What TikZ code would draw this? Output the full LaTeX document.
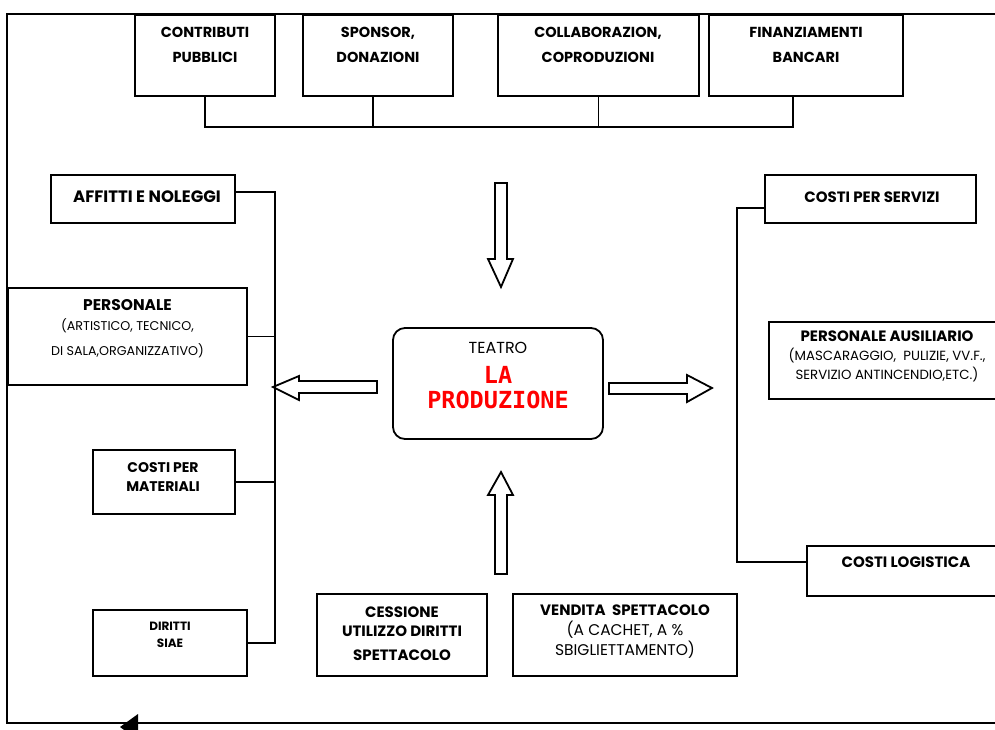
\documentclass[tikz,border=0pt]{standalone}
\usepackage{fontspec}
\setmainfont{Poppins}
\newfontfamily\monofnt{DejaVu Sans Mono}
\usetikzlibrary{positioning}

\begin{document}
\begin{tikzpicture}[x=1pt, y=-1pt,
  box/.style={draw, line width=1.8pt, inner sep=0pt},
  hd/.style={align=center, font=\bfseries\fontsize{15}{19}\selectfont},
  wire/.style={line width=1.8pt},
  fat/.style={draw, line width=1.8pt, line join=miter}]
  \useasboundingbox (0,0) rectangle (995,729);

  % outer frame, closing at the bottom with an arrow
  \coordinate (tl) at (7,14);
  \coordinate (bl) at (7,723);
  \draw[wire] (1000,14) -- (tl) -- (bl) -- (1000,723);
  \fill (120,727) -- (138,714) -- (138,740) -- cycle;

  % sources of money
  \node[box, minimum width=140, minimum height=81] (contrib) at (205,55.5) {};
  \node[box, minimum width=150, minimum height=81] (sponsor) at (378,55.5) {};
  \node[box, minimum width=201, minimum height=81] (collab) at (598.5,55.5) {};
  \node[box, minimum width=194, minimum height=81] (finanz) at (806,55.5) {};
  \node[hd, font=\bfseries\fontsize{14.5}{25}\selectfont] (contrib-t) at (205,45) {CONTRIBUTI\\PUBBLICI};
  \node[hd, font=\bfseries\fontsize{14.5}{25}\selectfont] (sponsor-t) at (378,45) {SPONSOR,\\DONAZIONI};
  \node[hd, font=\bfseries\fontsize{14.5}{25}\selectfont] (collab-t) at (598,45) {COLLABORAZION,\\COPRODUZIONI};
  \node[hd, font=\bfseries\fontsize{14.5}{25}\selectfont] (finanz-t) at (806,45) {FINANZIAMENTI\\BANCARI};

  \coordinate (bus) at (0,127);
  \draw[wire] (contrib.south) |- ([xshift=-13pt]finanz.south |- bus) -- ([xshift=-13pt]finanz.south);
  \draw[wire] ([xshift=-5pt]sponsor.south) -- ([xshift=-5pt]sponsor.south |- bus);
  \draw[wire] (collab.south) -- (collab.south |- bus);

  % the production
  \node[box, rounded corners=12pt, minimum width=210, minimum height=111] (prod) at (498,383.5) {};
  \node[font=\fontsize{16}{18}\selectfont] (teatro) at (498,348) {TEATRO};
  \node[font=\monofnt\bfseries\fontsize{23.5}{25}\selectfont, text=red, align=center] (titolo) at (498,388) {LA\\PRODUZIONE};

  % hollow arrows
  \draw[fat] (495,183) -- (507,183) -- (507,259) -- (513,259) -- (501,287) -- (488,259) -- (495,259) -- cycle;
  \draw[fat] (495,574) -- (507,574) -- (507,495) -- (513,495) -- (501,472) -- (488,495) -- (495,495) -- cycle;
  \draw[fat] (377,381) -- (377,393) -- (299,393) -- (299,400) -- (273,387) -- (299,376) -- (299,381) -- cycle;
  \draw[fat] (609,383) -- (609,394) -- (687,394) -- (687,402) -- (712,388) -- (687,375) -- (687,383) -- cycle;

  % costs, left side
  \node[box, minimum width=184, minimum height=48] (affitti) at (143,199) {};
  \node[box, minimum width=239, minimum height=97] (personale) at (127.5,336.5) {};
  \node[box, minimum width=142, minimum height=64] (materiali) at (164,482) {};
  \node[box, minimum width=154, minimum height=66] (siae) at (170,643) {};
  \node[hd, font=\bfseries\fontsize{16.5}{19}\selectfont] (affitti-t) at (147,197) {AFFITTI E NOLEGGI};
  \node[align=center, font=\fontsize{12.7}{20}\selectfont] (personale-t) at (127.5,328.5)
    {\textbf{\fontsize{15.5}{20}\selectfont PERSONALE}\\(ARTISTICO, TECNICO,\\[5pt]DI SALA,ORGANIZZATIVO)};
  \node[hd, font=\bfseries\fontsize{14}{19}\selectfont] (materiali-t) at (163,477.5) {COSTI PER\\MATERIALI};
  \node[hd, font=\bfseries\fontsize{12}{17}\selectfont] (siae-t) at (170,634.5) {DIRITTI\\SIAE};

  \coordinate (spineL) at (275,0);
  \coordinate (affitti-e) at ([yshift=7pt]affitti.east);
  \draw[wire] (affitti-e) -| (spineL |- siae.east) -- (siae.east);
  \draw[wire] (personale.east) -- (spineL |- personale.east);
  \draw[wire] (materiali.east) -- (spineL |- materiali.east);

  % costs, right side
  \node[box, minimum width=211, minimum height=48] (servizi) at (870.5,199) {};
  \node[box, minimum width=231, minimum height=77] (ausil) at (884.5,360.5) {};
  \node[box, minimum width=193, minimum height=50] (logistica) at (903.5,571) {};
  \node[hd] (servizi-t) at (872,197) {COSTI PER SERVIZI};
  \node[align=center, font=\fontsize{13.3}{19}\selectfont] (ausil-t) at (887,356)
    {\textbf{\fontsize{15}{19}\selectfont PERSONALE AUSILIARIO}\\(MASCARAGGIO,\ \ PULIZIE, VV.F.,\\SERVIZIO ANTINCENDIO,ETC.)};
  \node[hd] (logistica-t) at (906,562) {COSTI LOGISTICA};

  \coordinate (spineR) at (737,0);
  \coordinate (servizi-w) at ([yshift=-9pt]servizi.west);
  \coordinate (logistica-w) at ([yshift=9pt]logistica.west);
  \draw[wire] (servizi-w) -| (spineR |- logistica-w) -- (logistica-w);

  % revenues, bottom
  \node[box, minimum width=170, minimum height=82] (cessione) at (402,635) {};
  \node[box, minimum width=224, minimum height=82] (vendita) at (625,635) {};
  \node[hd] (cessione-t) at (402,633.5) {CESSIONE\\UTILIZZO DIRITTI\\[5pt]SPETTACOLO};
  \node[align=center, font=\fontsize{15.5}{20}\selectfont] (vendita-t) at (625,631.5)
    {\textbf{\fontsize{15}{19}\selectfont VENDITA\ \ SPETTACOLO}\\(A CACHET, A \%\\SBIGLIETTAMENTO)};
\end{tikzpicture}
\end{document}
